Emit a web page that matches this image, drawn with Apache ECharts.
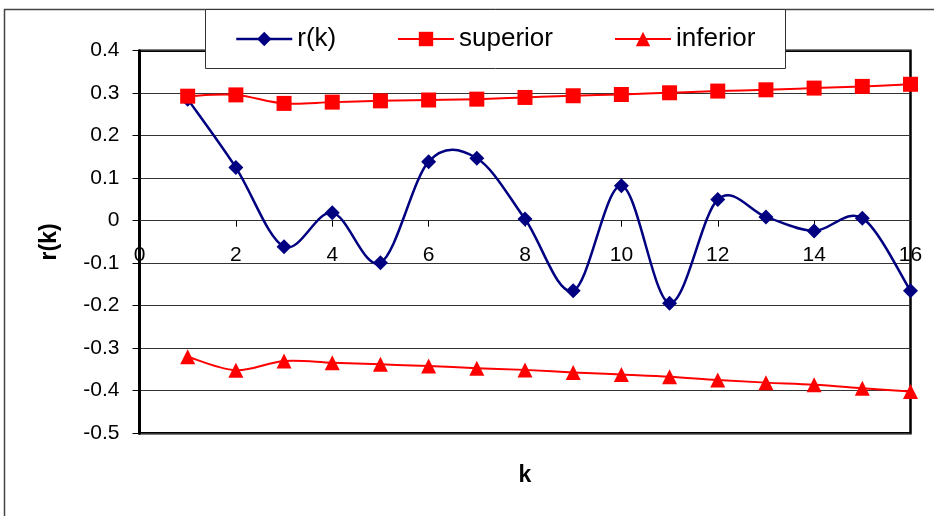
<!DOCTYPE html>
<html>
<head>
<meta charset="utf-8">
<script src="https://cdn.jsdelivr.net/npm/echarts@6/dist/echarts.min.js"></script>
<style>
  html, body { margin: 0; padding: 0; background: #fff; }
  #chart { width: 934px; height: 516px; }
</style>
</head>
<body>
<div id="chart"></div>
<script>
var lags = [1, 2, 3, 4, 5, 6, 7, 8, 9, 10, 11, 12, 13, 14, 15, 16];
var rk = [0.286, 0.125, -0.061, 0.019, -0.099, 0.139, 0.147, 0.004, -0.165, 0.082, -0.194, 0.050, 0.009, -0.024, 0.006, -0.165];
var superior = [0.293, 0.296, 0.276, 0.279, 0.282, 0.284, 0.286, 0.290, 0.294, 0.297, 0.301, 0.305, 0.308, 0.312, 0.316, 0.321];
var inferior = [-0.320, -0.352, -0.330, -0.334, -0.338, -0.342, -0.347, -0.351, -0.357, -0.362, -0.367, -0.375, -0.381, -0.386, -0.394, -0.402];
var xTicks = [0, 16, 2];      // min, max, step
var yTicks = [-0.5, 0.4, 0.1];

var NAVY = '#000080', RED = '#ff0000';

function pairs(vals) {
    return vals.map(function(v, i) { return [lags[i], v]; });
}

var font = '"Liberation Sans", Arial, sans-serif';
var plotTop = 50.7, plotBottom = 82.8;
var plotH = 516 - plotTop - plotBottom;
// x axis sits on the y = 0 line; shift it up from the bottom by that much
var zeroShift = plotH * (0 - yTicks[0]) / (yTicks[1] - yTicks[0]);

// Excel-style smoothed line (catmull-rom pieces), one bezier per data gap.
// echarts' own smooth clamps control points so it never overshoots; excel does.
function curve(vals, color, width) {
    var n = vals.length;
    return {
        type: 'custom',
        silent: true,
        data: pairs(vals),
        renderItem: function(params, api) {
            var i = params.dataIndex;
            if (i >= n - 1) return null;
            var pt = function(j) {
                j = Math.max(0, Math.min(n - 1, j));
                return api.coord([lags[j], vals[j]]);
            };
            var p0 = pt(i - 1), p1 = pt(i), p2 = pt(i + 1), p3 = pt(i + 2);
            return {
                type: 'bezierCurve',
                shape: {
                    x1: p1[0], y1: p1[1],
                    x2: p2[0], y2: p2[1],
                    cpx1: p1[0] + (p2[0] - p0[0]) / 6,
                    cpy1: p1[1] + (p2[1] - p0[1]) / 6,
                    cpx2: p2[0] - (p3[0] - p1[0]) / 6,
                    cpy2: p2[1] - (p3[1] - p1[1]) / 6
                },
                style: { fill: null, stroke: color, lineWidth: width }
            };
        }
    };
}

function markers(name, vals, symbol, color) {
    return {
        name: name,
        type: 'line',
        data: pairs(vals),
        symbol: symbol,
        symbolSize: 15,
        lineStyle: { color: color, width: 0, opacity: 0 },
        itemStyle: { color: color },
        emphasis: { disabled: true }
    };
}

var chart = echarts.init(document.getElementById('chart'));

// one legend per entry so each can sit where it does in the picture
function legendAt(name, left, color, width) {
    return {
        data: [name],
        left: left,
        top: 26,
        padding: 0,
        itemWidth: 56,
        itemHeight: 18,
        itemGap: 0,
        z: 20,
        lineStyle: { color: color, width: width, opacity: 1 },
        textStyle: { fontFamily: font, fontSize: 26, color: '#000' }
    };
}

var option = {
    animation: false,
    backgroundColor: '#fff',
    grid: {
        left: 139.5,
        right: 23.5,
        top: plotTop,
        bottom: plotBottom,
        show: true,
        borderColor: '#000',
        borderWidth: 2.5,
        outerBoundsMode: 'none'
    },
    graphic: [
        {
            type: 'rect', z: -1, silent: true,
            shape: { x: 4.5, y: 9.5, width: 1000, height: 1000 },
            style: { fill: null, stroke: '#444', lineWidth: 1.5 }
        },
        {
            type: 'rect', z: 15, silent: true,
            shape: { x: 205.5, y: 9.5, width: 580, height: 59 },
            style: { fill: '#fff', stroke: '#333', lineWidth: 1 }
        }
    ],
    legend: [
        legendAt('r(k)', 235, NAVY, 2.5),
        legendAt('superior', 397, RED, 2),
        legendAt('inferior', 614, RED, 2)
    ],
    xAxis: {
        type: 'value',
        position: 'bottom',
        offset: -zeroShift,
        min: xTicks[0],
        max: xTicks[1],
        interval: xTicks[2],
        name: 'k',
        nameLocation: 'middle',
        nameGap: 243,
        nameTextStyle: { fontFamily: font, fontSize: 23, fontWeight: 'bold', color: '#000' },
        axisLine: { show: true, onZero: false, lineStyle: { color: '#333', width: 1 } },
        axisTick: { show: true, inside: false, length: 6, lineStyle: { color: '#000', width: 1 } },
        axisLabel: { fontFamily: font, fontSize: 21, color: '#000', margin: 24 },
        splitLine: { show: false }
    },
    yAxis: {
        type: 'value',
        min: yTicks[0],
        max: yTicks[1],
        interval: yTicks[2],
        name: 'r(k)',
        nameLocation: 'middle',
        nameGap: 78,
        nameRotate: 90,
        nameTextStyle: { fontFamily: font, fontSize: 23, fontWeight: 'bold', color: '#000' },
        axisLine: { show: true, lineStyle: { color: '#000', width: 3 } },
        axisTick: { show: true, inside: false, length: 7, lineStyle: { color: '#000', width: 1 } },
        axisLabel: { fontFamily: font, fontSize: 21, color: '#000', margin: 20 },
        splitLine: { show: true, lineStyle: { color: '#333', width: 1 } }
    },
    series: [
        curve(rk, NAVY, 2.5),
        markers('r(k)', rk, 'diamond', NAVY),
        curve(superior, RED, 2),
        markers('superior', superior, 'rect', RED),
        curve(inferior, RED, 2),
        markers('inferior', inferior, 'triangle', RED)
    ]
};

chart.setOption(option);
</script>
</body>
</html>
